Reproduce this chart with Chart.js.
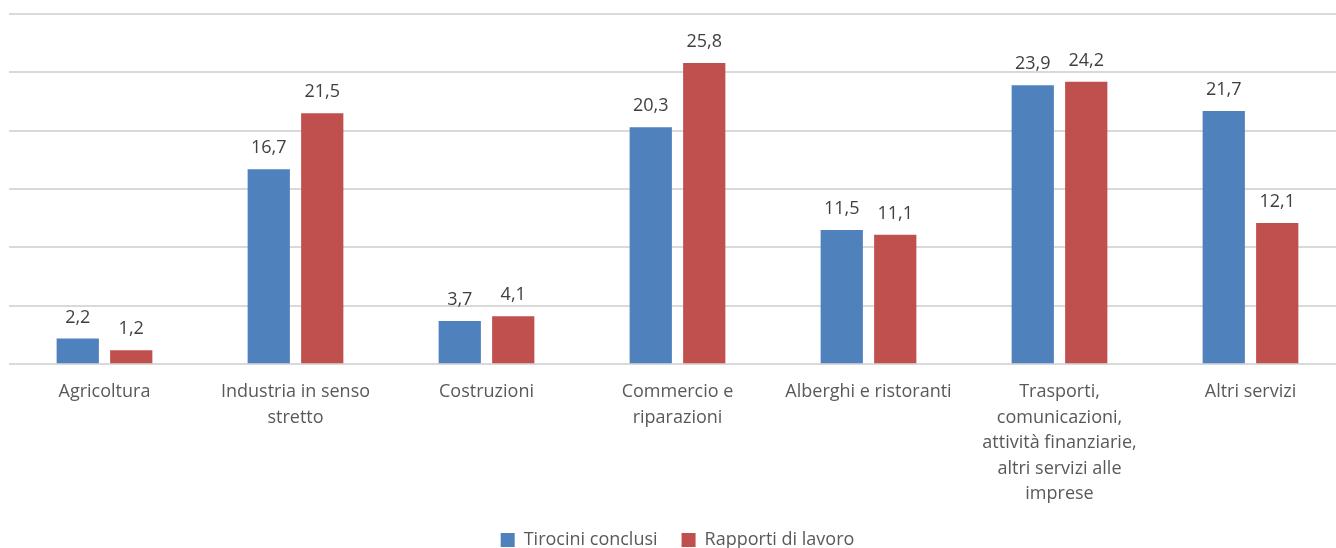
<!DOCTYPE html>
<html>
<head>
<meta charset="utf-8">
<script src="https://cdn.jsdelivr.net/npm/chart.js@4"></script>
<style>
  html, body { margin: 0; padding: 0; background: #fff; overflow: hidden; }
  #wrap { width: 1346px; height: 559px; }
</style>
</head>
<body>
<div id="wrap"><canvas id="chart"></canvas></div>
<script>
// categories, with line breaks as in the picture
var settori = [
  "Agricoltura",
  ["Industria in senso", "stretto"],
  "Costruzioni",
  ["Commercio e", "riparazioni"],
  "Alberghi e ristoranti",
  ["Trasporti,", "comunicazioni,", "attività finanziarie,", "altri servizi alle", "imprese"],
  "Altri servizi"
];
var tirocini = [2.2, 16.7, 3.7, 20.3, 11.5, 23.9, 21.7];
var rapporti = [1.2, 21.5, 4.1, 25.8, 11.1, 24.2, 12.1];

var fontName = "'Open Sans', sans-serif";
Chart.defaults.font.family = fontName;
Chart.defaults.font.size = 18;
Chart.defaults.color = "#595959";

// value labels above each bar, Italian decimal comma
var valueLabels = {
  id: "valueLabels",
  afterDatasetsDraw: function (chart) {
    var ctx = chart.ctx;
    ctx.save();
    ctx.font = "18px " + fontName;
    ctx.fillStyle = "#404040";
    ctx.textAlign = "center";
    ctx.textBaseline = "middle";
    chart.data.datasets.forEach(function (ds, i) {
      chart.getDatasetMeta(i).data.forEach(function (bar, j) {
        ctx.fillText(ds.data[j].toFixed(1).replace(".", ","), bar.x, bar.y - 21);
      });
    });
    ctx.restore();
  }
};

new Chart(document.getElementById("chart"), {
  type: "bar",
  data: {
    labels: settori,
    datasets: [
      { label: "Tirocini conclusi", data: tirocini, backgroundColor: "#4f81bd" },
      { label: "Rapporti di lavoro", data: rapporti, backgroundColor: "#c0504d" }
    ]
  },
  options: {
    responsive: true,
    maintainAspectRatio: false,
    animation: false,
    layout: { padding: { left: 9, top: 14, right: 0, bottom: 0 } },
    datasets: { bar: { categoryPercentage: 0.56, barPercentage: 0.79 } },
    scales: {
      x: {
        grid: { display: false },
        border: { display: false },
        ticks: { maxRotation: 0, autoSkip: false, padding: 7, font: { lineHeight: 1.42 } },
        afterFit: function (scale) { scale.height -= 7; }
      },
      y: {
        min: 0,
        max: 30,
        ticks: { stepSize: 5, display: false },
        grid: { color: "#d9d9d9", lineWidth: 2, drawTicks: false },
        border: { display: false }
      }
    },
    plugins: {
      legend: {
        position: "bottom",
        labels: { boxWidth: 14, boxHeight: 14, padding: 24 }
      },
      tooltip: { enabled: false }
    }
  },
  plugins: [valueLabels]
});
</script>
</body>
</html>
